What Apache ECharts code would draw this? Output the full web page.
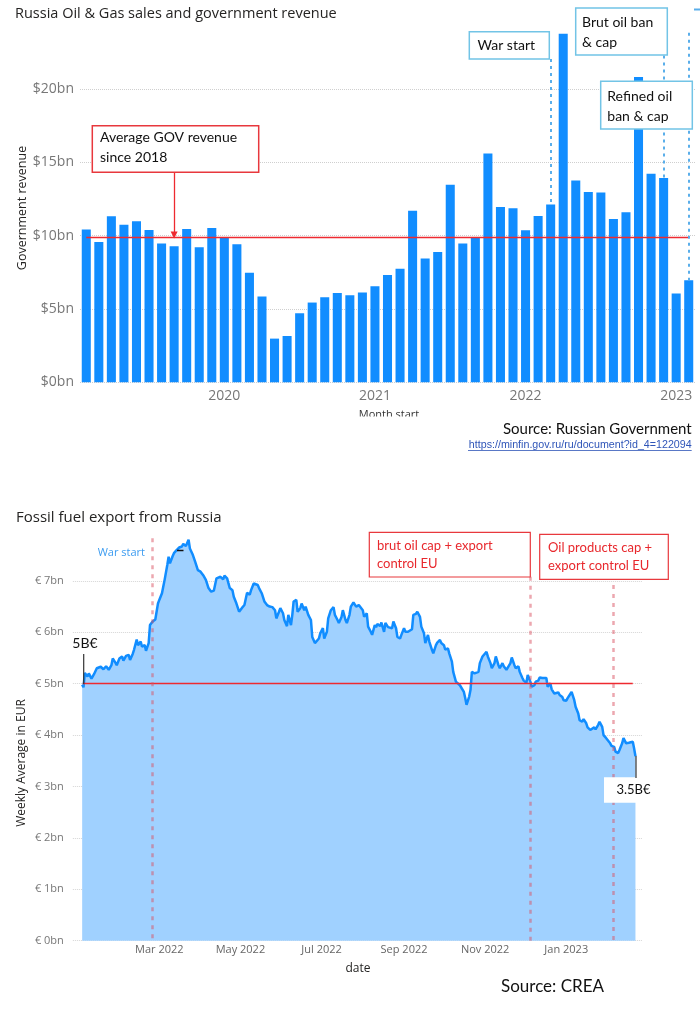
<!DOCTYPE html>
<html>
<head>
<meta charset="utf-8">
<script src="https://cdn.jsdelivr.net/npm/echarts@6/dist/echarts.min.js"></script>
<style>
  html, body { margin: 0; padding: 0; background: #fff; }
  #chart { width: 700px; height: 1009px; }
</style>
</head>
<body>
<div id="chart"></div>
<script>
// --- top chart: monthly oil & gas government revenue, $bn ---
const months = [
  "2019-02", "2019-03", "2019-04", "2019-05", "2019-06", "2019-07", "2019-08", "2019-09", "2019-10", "2019-11", "2019-12",
  "2020-01", "2020-02", "2020-03", "2020-04", "2020-05", "2020-06", "2020-07", "2020-08", "2020-09", "2020-10", "2020-11", "2020-12",
  "2021-01", "2021-02", "2021-03", "2021-04", "2021-05", "2021-06", "2021-07", "2021-08", "2021-09", "2021-10", "2021-11", "2021-12",
  "2022-01", "2022-02", "2022-03", "2022-04", "2022-05", "2022-06", "2022-07", "2022-08", "2022-09", "2022-10", "2022-11", "2022-12",
  "2023-01", "2023-02",
];
const revenue = [
  10.42, 9.57, 11.32, 10.75, 10.98, 10.39, 9.46, 9.28, 10.46, 9.21, 10.53,
  9.91, 9.41, 7.48, 5.85, 2.98, 3.16, 4.71, 5.44, 5.80, 6.09, 5.93, 6.12,
  6.55, 7.32, 7.75, 11.71, 8.44, 8.89, 13.48, 9.46, 9.85, 15.6, 11.96, 11.88,
  10.37, 11.35, 12.12, 23.78, 13.76, 12.98, 12.94, 11.14, 11.6, 20.83, 14.23, 13.94,
  6.05, 6.96,
];
const avgRevenue = 9.88;
const revenueTicks = [0, 5, 10, 15, 20];

// --- bottom chart: fossil fuel export, weekly average in € bn ---
// days counted from 2022-01-01
const exportDays = [
  1, 2, 3, 5, 6, 8, 10, 12, 13, 15, 17, 19, 21, 23, 24, 26, 27, 29, 31, 32, 34, 36, 37, 39, 40, 42, 43, 45, 46, 48, 49, 51,
  52, 54, 56, 58, 59, 61, 62, 63, 65, 66, 67, 69, 70, 72, 74, 76, 77, 79, 81, 82, 84, 86, 88, 90, 92, 94, 96, 98, 100,
  102, 103, 105, 107, 108, 110, 111, 112, 114, 115, 117, 119, 121, 123, 124, 125, 127, 128, 130, 131, 133, 134, 136, 138,
  140, 142, 144, 146, 147, 149, 150, 152, 153, 155, 156, 158, 159, 160, 162, 163, 165, 166, 168, 169, 171, 173, 174, 176,
  177, 179, 180, 182, 183, 185, 186, 188, 190, 191, 193, 194, 196, 197, 199, 200, 202, 203, 205, 207, 209, 210, 212, 213,
  215, 216, 218, 219, 221, 222, 223, 225, 226, 228, 229, 231, 232, 234, 235, 237, 238, 240, 241, 243, 244, 246, 247, 249,
  250, 252, 253, 255, 256, 258, 259, 261, 262, 264, 265, 267, 268, 270, 271, 273, 274, 276, 277, 279, 280, 282, 283, 285,
  286, 288, 289, 290, 292, 293, 294, 296, 297, 299, 300, 302, 303, 305, 306, 308, 309, 311, 312, 314, 315, 317, 318, 320,
  321, 323, 324, 326, 327, 329, 330, 332, 333, 335, 336, 338, 339, 341, 342, 344, 345, 347, 348, 350, 351, 353, 354, 356,
  357, 359, 360, 362, 363, 365, 366, 368, 369, 371, 372, 374, 375, 377, 378, 380, 381, 383, 384, 386, 387, 389, 390, 392,
  393, 395, 396, 398, 399, 401, 402, 404, 405, 407, 408, 410, 412, 413, 415, 416, 417,
];
const exportValues = [
  4.98, 4.93, 5.21, 5.14, 5.20, 5.10, 5.19, 5.30, 5.27, 5.33, 5.28, 5.34, 5.27, 5.36, 5.49, 5.41, 5.36, 5.49, 5.53, 5.45, 5.54, 5.56, 5.46, 5.58, 5.66, 5.86, 5.75, 5.82, 5.72, 5.75, 5.64, 5.79,
  6.14, 6.21, 6.25, 6.56, 6.63, 6.76, 6.89, 7.02, 7.31, 7.47, 7.34, 7.48, 7.54, 7.60, 7.65, 7.67, 7.72, 7.68, 7.80, 7.63, 7.52, 7.37, 7.21, 7.18, 7.11, 7.02, 6.86, 6.79, 6.81,
  7.05, 7.05, 7.08, 7.03, 7.10, 7.05, 6.95, 6.86, 6.82, 6.69, 6.56, 6.40, 6.47, 6.53, 6.56, 6.77, 6.73, 6.82, 6.95, 6.96, 6.92, 6.86, 6.76, 6.60,
  6.53, 6.50, 6.49, 6.43, 6.27, 6.40, 6.47, 6.37, 6.24, 6.12, 6.34, 6.14, 6.34, 6.60, 6.63, 6.40, 6.47, 6.56, 6.43, 6.50, 6.34, 6.24, 5.91, 5.79,
  5.82, 5.88, 5.98, 6.08, 5.88, 6.01, 6.27, 6.43, 6.49, 6.34, 6.24, 6.18, 6.30, 6.43, 6.24, 6.18, 6.34, 6.50, 6.58, 6.50, 6.53, 6.55, 6.43, 6.30,
  6.37, 6.11, 6.01, 5.95, 6.14, 6.10, 6.16, 6.12, 6.19, 6.01, 6.18, 6.10, 6.11, 6.08, 6.21, 6.08, 5.91, 5.88, 5.95, 6.08, 6.01, 6.01, 6.03, 6.06,
  6.34, 6.36, 6.40, 6.30, 6.11, 5.98, 5.79, 5.95, 5.82, 5.66, 5.59, 5.75, 5.80, 5.85, 5.79, 5.75, 5.66, 5.69, 5.59, 5.43, 5.23, 5.04, 5.01, 4.97,
  4.97, 4.84, 4.72, 4.59, 4.75, 4.88, 5.23, 5.20, 5.17, 5.23, 5.40, 5.53, 5.56, 5.62, 5.53, 5.40, 5.30, 5.40, 5.53, 5.36, 5.30, 5.40, 5.34, 5.27,
  5.30, 5.40, 5.51, 5.36, 5.30, 5.34, 5.23, 5.11, 5.06, 5.02, 5.17, 5.04, 4.94, 4.97, 5.04, 5.06, 5.12, 5.11, 5.14, 5.11, 4.94, 5.01, 4.89, 4.81,
  4.83, 4.83, 4.78, 4.74, 4.68, 4.67, 4.72, 4.80, 4.84, 4.68, 4.55, 4.42, 4.29, 4.26, 4.31, 4.23, 4.15, 4.10, 4.07, 4.15, 4.11, 4.20, 4.26, 4.16,
  4.00, 3.94, 3.97, 3.84, 3.79, 3.77, 3.68, 3.65, 3.71, 3.84, 3.94, 3.84, 3.85, 3.84, 3.87, 3.74, 3.59,
];
const exportTickDays = [59, 120, 181, 243, 304, 365]; // Mar, May, Jul, Sep, Nov 2022, Jan 2023
// event days: war start, crude oil cap, oil products cap
const eventDays = [54, 338, 400];
const eventTops = [7.83, 7.08, 6.92];

const monthNames = ["Jan", "Feb", "Mar", "Apr", "May", "Jun", "Jul", "Aug", "Sep", "Oct", "Nov", "Dec"];
const dayLabel = (d) => {
  const dt = new Date(2022, 0, 1 + Math.round(d));
  return monthNames[dt.getMonth()] + " " + dt.getFullYear();
};

const chart = echarts.init(document.getElementById("chart"), null, { renderer: "canvas" });

const redLine = { color: "#ee2a30", type: "solid", width: 1.3, opacity: 1 };
const blueDot = { color: "#5aaeea", type: [3, 4], width: 2 };
const redDot = { color: "rgba(218,80,96,0.5)", type: [4, 5], width: 2.5 };
const annoFont = "14px Lato";

function box(x, y, w, h, stroke, lw) {
  return {
    type: "rect", z: 100,
    shape: { x, y, width: w, height: h },
    style: { fill: "#fff", stroke, lineWidth: lw },
  };
}
function txt(x, y, text, font, fill, extra, rot) {
  return {
    type: "text", z: 101, x, y, rotation: rot || 0,
    style: Object.assign({ text, font, fill, align: "left", verticalAlign: "middle" }, extra || {}),
  };
}

chart.setOption({
  backgroundColor: "#fff",
  animation: false,
  grid: [
    { left: 80, right: 5, top: 15.8, bottom: 626.7 },
    { left: 72.85, right: 57.9, top: 529.5, bottom: 68.3 },
  ],
  xAxis: [
    {
      gridIndex: 0,
      type: "category",
      data: months,
      axisLine: { show: false },
      axisTick: { show: false },
      axisLabel: {
        interval: (i) => months[i].endsWith("-01"),
        formatter: (v) => v.slice(0, 4),
        color: "#777",
        fontSize: 14,
        fontFamily: "Open Sans",
        margin: 7,
      },
    },
    {
      gridIndex: 1,
      type: "value",
      min: -6,
      max: 422,
      axisLine: { show: false },
      axisTick: { show: false },
      splitLine: { show: false },
      axisLabel: {
        customValues: exportTickDays,
        formatter: dayLabel,
        color: "#666",
        fontSize: 11,
        fontFamily: "Open Sans",
        margin: 4,
      },
    },
  ],
  yAxis: [
    {
      gridIndex: 0,
      type: "value",
      min: 0,
      max: 25,
      interval: 5,
      axisLine: { show: false },
      axisTick: { show: false },
      axisLabel: {
        formatter: (v) => (revenueTicks.includes(v) ? "$" + v + "bn" : ""),
        color: "#777",
        fontSize: 14,
        fontFamily: "Open Sans",
        margin: 6,
      },
      splitLine: { showMaxLine: false, lineStyle: { type: "dotted", color: "#cfcfcf", width: 1 } },
    },
    {
      gridIndex: 1,
      type: "value",
      min: 0,
      max: 8,
      interval: 1,
      axisLine: { show: false },
      axisTick: { show: false },
      axisLabel: {
        formatter: (v) => (v < 8 ? "€ " + v + "bn" : ""),
        color: "#777",
        fontSize: 11,
        fontFamily: "Open Sans",
        margin: 9,
      },
      splitLine: { showMaxLine: false, lineStyle: { type: "dotted", color: "#d5d5d5", width: 1 } },
    },
  ],
  series: [
    {
      type: "bar",
      xAxisIndex: 0,
      yAxisIndex: 0,
      data: revenue,
      barCategoryGap: "28%",
      itemStyle: { color: "#118DFF" },
      markLine: {
        silent: true,
        symbol: "none",
        label: { show: false },
        lineStyle: redLine,
        emphasis: { disabled: true },
        data: [
          [{ coord: [0, avgRevenue], lineStyle: redLine }, { coord: [48, avgRevenue], lineStyle: redLine }],
          [
            { coord: ["2019-09", 14.33], symbol: "none" },
            { coord: ["2019-09", 10.05], symbol: "triangle", symbolSize: [7, 7] },
          ],
          [{ coord: ["2022-03", 22.05], lineStyle: blueDot }, { coord: ["2022-03", 12.12] }],
          [{ coord: ["2022-12", 22.3], lineStyle: blueDot }, { coord: ["2022-12", 13.94] }],
          [{ coord: ["2023-02", 23.85], lineStyle: blueDot }, { coord: ["2023-02", 6.96] }],
        ],
      },
    },
    {
      type: "line",
      xAxisIndex: 1,
      yAxisIndex: 1,
      data: exportDays.map((d, i) => [d, exportValues[i]]),
      showSymbol: false,
      lineStyle: { color: "#118DFF", width: 2.5 },
      itemStyle: { color: "#118DFF" },
      areaStyle: { color: "#A0D1FF", opacity: 1 },
      markLine: {
        silent: true,
        symbol: "none",
        label: { show: false },
        lineStyle: redLine,
        emphasis: { disabled: true },
        data: [
          [{ coord: [1.4, 5], lineStyle: redLine }, { coord: [415, 5], lineStyle: redLine }],
        ].concat(eventDays.map((d, i) => [
          { coord: [d, eventTops[i]], lineStyle: redDot },
          { coord: [d, 0] },
        ])),
      },
    },
  ],
  graphic: [
    // top chart texts
    txt(15, 14, "Russia Oil & Gas sales and government revenue", "14.5px Open Sans", "#252423"),
    txt(22, 208, "Government revenue", "12.5px Open Sans", "#252423", { align: "center" }, Math.PI / 2),
    box(92.3, 125.7, 166.4, 46.6, "#e8383d", 1.5),
    txt(100, 127.7, "Average GOV revenue\nsince 2018", annoFont, "#111", { verticalAlign: "top", lineHeight: 20 }),
    box(469.3, 31.7, 80, 27.3, "#72c4e6", 1.5),
    txt(477.5, 45, "War start", annoFont, "#111"),
    box(575.7, 8, 91.6, 47, "#72c4e6", 1.5),
    txt(582, 12, "Brut oil ban\n& cap", annoFont, "#111", { verticalAlign: "top", lineHeight: 20 }),
    box(600.7, 81.3, 91.6, 47.7, "#72c4e6", 1.5),
    txt(607.3, 86, "Refined oil\nban & cap", annoFont, "#111", { verticalAlign: "top", lineHeight: 20 }),
    { type: "line", z: 100, shape: { x1: 694, y1: 9.5, x2: 700, y2: 9.5 }, style: { stroke: "#5aaeea", lineWidth: 2 } },
    txt(389, 415, "Month start", "11px Open Sans", "#333", { align: "center" }),
    { type: "rect", z: 102, shape: { x: 350, y: 416.5, width: 80, height: 8 }, style: { fill: "#fff" } },
    txt(691.7, 429, "Source: Russian Government", "15px Lato", "#111", { align: "right" }),
    txt(691.7, 445, "https://minfin.gov.ru/ru/document?id_4=122094", "10.7px Liberation Sans", "#2f55b8", { align: "right" }),
    { type: "line", z: 100, shape: { x1: 468, y1: 450.5, x2: 691.7, y2: 450.5 }, style: { stroke: "#2f55b8", lineWidth: 0.8 } },

    // bottom chart texts
    txt(16, 518, "Fossil fuel export from Russia", "15px Open Sans", "#252423"),
    txt(22, 763, "Weekly Average in EUR", "12px Open Sans", "#252423", { align: "center" }, Math.PI / 2),
    txt(358, 969, "date", "12px Open Sans", "#252423", { align: "center" }),
    txt(145, 552.7, "War start", "11px Open Sans", "#3d9cf0", { align: "right" }),
    box(369.3, 532.3, 161, 44.7, "#e8383d", 1.2),
    txt(377, 537, "brut oil cap + export\ncontrol EU", "13px Lato", "#e8282d", { verticalAlign: "top", lineHeight: 17.6 }),
    box(539.7, 534.3, 128.6, 45, "#e8383d", 1.2),
    txt(548, 539.3, "Oil products cap +\nexport control EU", "13px Lato", "#e8282d", { verticalAlign: "top", lineHeight: 18 }),
    txt(85, 643, "5B€", "14px Lato", "#111", { align: "center" }),
    { type: "line", z: 100, shape: { x1: 83.7, y1: 654, x2: 83.7, y2: 684 }, style: { stroke: "#333", lineWidth: 1.2 } },
    { type: "rect", z: 100, shape: { x: 604, y: 777.3, width: 47, height: 25.4 }, style: { fill: "#fff" } },
    txt(633.5, 790, "3.5B€", "13px Lato", "#111", { align: "center" }),
    { type: "line", z: 100, shape: { x1: 636, y1: 756, x2: 636, y2: 778 }, style: { stroke: "#333", lineWidth: 1.2 } },
    { type: "line", z: 100, shape: { x1: 177, y1: 550.5, x2: 183.5, y2: 550.5 }, style: { stroke: "#111", lineWidth: 1.5 } },
    txt(552.5, 987, "Source: CREA", "17px Lato", "#111", { align: "center" }),
  ],
});
</script>
</body>
</html>
